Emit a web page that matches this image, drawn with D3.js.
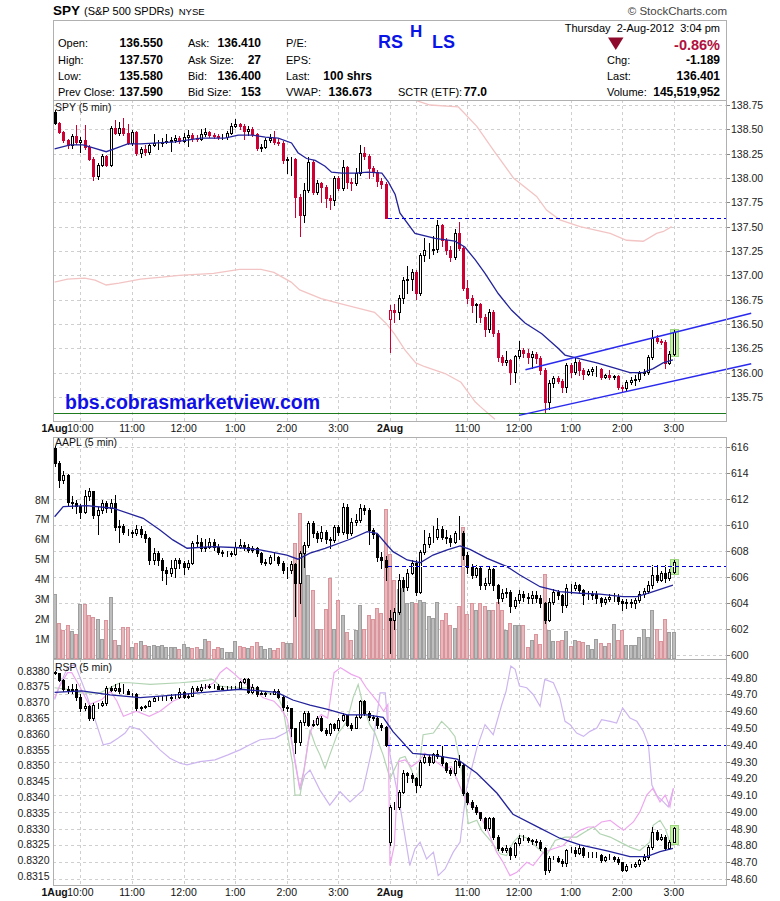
<!DOCTYPE html>
<html>
<head>
<meta charset="utf-8">
<script src="https://cdn.jsdelivr.net/npm/d3@7"></script>
<style>
body { margin: 0; background: #fff; }
svg text { font-family: Arial, "Liberation Sans", sans-serif; }
</style>
</head>
<body>
<div id="chart"></div>
<script>
// bar index: 0 = 1Aug 9:30, 78 = 2Aug 9:30, one bar = 5 minutes
const timeTicks = [0, 6, 18, 30, 42, 54, 66, 78, 96, 108, 120, 132, 144];
const timeText = ['1Aug', '10:00', '11:00', '12:00', '1:00', '2:00', '3:00', '2Aug', '11:00', '12:00', '1:00', '2:00', '3:00'];
const gridTicks = [6, 18, 30, 42, 54, 66, 78, 84, 96, 108, 120, 132, 144];

// ---- SPY 5 min ----
const spyDayOpen = [138.68, 136.55];
const spyPrior = 137.71;
const spyPrevClose = 137.59;
const spyLowLine = 135.58;
const spyClose = [
  138.57,138.47,138.39,138.34,138.43,138.37,138.39,138.32,138.20,138.02,
  138.13,138.23,138.13,138.51,138.46,138.51,138.46,138.36,138.47,138.26,
  138.30,138.27,138.34,138.36,138.36,138.37,138.38,138.39,138.41,138.38,
  138.42,138.44,138.41,138.40,138.45,138.47,138.44,138.43,138.42,138.42,
  138.46,138.53,138.55,138.53,138.48,138.50,138.45,138.31,138.32,138.39,
  138.41,138.37,138.36,138.18,138.19,138.20,137.80,137.62,137.88,138.16,
  137.86,137.95,137.91,137.79,137.77,138.00,137.90,138.11,137.96,137.95,
  138.05,138.26,138.23,138.10,138.06,137.97,137.94,137.59,
  136.64,136.62,136.77,136.95,136.96,137.03,136.82,137.21,137.26,137.26,
  137.27,137.52,137.36,137.26,137.19,137.43,137.28,136.87,136.77,136.69,
  136.70,136.57,136.45,136.62,136.41,136.16,136.11,136.13,136.01,136.17,
  136.23,136.20,136.16,136.19,136.15,136.03,135.70,135.89,135.94,135.91,
  135.85,136.08,136.01,136.11,136.03,135.99,136.02,136.04,136.04,135.95,
  135.97,135.95,135.96,135.85,135.84,135.90,135.92,135.93,136.00,136.01,
  136.16,136.36,136.32,136.31,136.10,136.19,136.42];
const spyHigh = [
  138.70,138.58,138.48,138.40,138.45,138.54,138.42,138.54,138.34,138.22,
  138.15,138.25,138.24,138.53,138.60,138.58,138.62,138.55,138.49,138.48,
  138.32,138.34,138.36,138.45,138.39,138.41,138.45,138.42,138.44,138.43,
  138.46,138.49,138.46,138.44,138.50,138.51,138.48,138.46,138.45,138.45,
  138.48,138.56,138.61,138.57,138.55,138.53,138.52,138.46,138.35,138.41,
  138.45,138.48,138.40,138.38,138.22,138.22,138.21,137.84,137.95,138.22,
  138.18,137.98,137.96,137.93,137.82,138.02,138.02,138.18,138.12,138.00,
  138.10,138.34,138.32,138.25,138.12,138.08,138.00,137.96,
  136.69,136.70,136.80,136.98,137.10,137.06,137.05,137.23,137.38,137.33,
  137.40,137.57,137.53,137.38,137.30,137.48,137.55,137.30,136.95,136.80,
  136.72,136.72,136.60,136.65,136.64,136.44,136.18,136.22,136.14,136.18,
  136.32,136.25,136.24,136.22,136.21,136.17,136.05,135.92,135.96,135.96,
  135.93,136.10,136.10,136.16,136.13,136.05,136.04,136.06,136.07,136.05,
  135.99,136.03,135.98,135.98,135.87,135.92,135.95,135.97,136.02,136.04,
  136.18,136.44,136.39,136.34,136.33,136.22,136.44];
const spyLow = [
  138.55,138.46,138.37,138.31,138.31,138.35,138.27,138.30,138.18,137.98,
  137.99,138.12,138.12,138.12,138.45,138.44,138.44,138.35,138.34,138.24,
  138.22,138.24,138.25,138.33,138.30,138.33,138.36,138.28,138.37,138.36,
  138.37,138.33,138.38,138.38,138.39,138.43,138.42,138.41,138.40,138.40,
  138.40,138.45,138.52,138.50,138.40,138.44,138.43,138.29,138.28,138.31,
  138.37,138.35,138.34,138.15,138.05,138.03,137.60,137.40,137.55,137.86,
  137.84,137.84,137.75,137.70,137.68,137.72,137.88,137.88,137.90,137.88,
  137.93,138.03,138.20,138.00,138.02,137.92,137.90,137.59,
  136.21,136.52,136.55,136.72,136.82,136.85,136.76,136.80,137.15,137.18,
  137.22,137.24,137.30,137.22,137.15,137.17,137.26,136.85,136.72,136.62,
  136.52,136.52,136.38,136.42,136.38,136.12,136.08,136.08,135.88,135.90,
  136.15,136.16,136.10,136.05,136.10,135.99,135.58,135.63,135.85,135.89,
  135.80,135.80,135.95,135.99,135.98,135.93,135.97,135.98,135.96,135.93,
  135.94,135.93,135.93,135.83,135.80,135.82,135.88,135.87,135.91,135.97,
  135.99,136.14,136.30,136.29,136.05,136.09,136.18];
const spyMA = [[0,138.30],[3.6,138.34],[6.6,138.34],[9,138.31],[12,138.27],[14.5,138.31],[17,138.35],[20,138.35],[28,138.37],[34,138.41],[39.6,138.41],[42.7,138.44],[46,138.44],[49,138.42],[52,138.41],[55.1,138.36],[56.6,138.26],[58.6,138.20],[60.6,138.18],[62.9,138.12],[64.4,138.06],[66.8,138.05],[69.9,138.05],[72.9,138.06],[76.1,138.05],[77.6,137.96],[79.2,137.83],[80.3,137.64],[83.8,137.43],[88.5,137.38],[93.1,137.35],[95.4,137.29],[97.8,137.16],[100.1,137.02],[103.2,136.81],[106.3,136.64],[109.4,136.51],[113.3,136.40],[117.1,136.25],[118.7,136.18],[122.2,136.14],[126.1,136.10],[129.9,136.05],[133.8,136.00],[136.8,136.00],[139.2,136.04],[141.5,136.10],[143.8,136.13]];
const spyBandLow = [[0,136.93],[3,136.96],[7,136.97],[9.4,136.95],[12,136.90],[15,136.92],[20,136.96],[25,136.98],[29,137.00],[37,137.02],[43,137.06],[48,137.06],[51,137.03],[55,136.93],[57,136.85],[62,136.76],[68,136.69],[74.4,136.62],[77,136.51],[79,136.40],[81.5,136.23],[84,136.10],[86.1,136.06],[90.8,135.99],[94.5,135.90],[97.8,135.70],[99,135.65],[102.4,135.52]];
const spyBandHigh = [[80,138.95],[83.8,138.80],[87.3,138.75],[93.9,138.73],[98.2,138.53],[102,138.29],[106.7,138.00],[112.1,137.81],[114.4,137.67],[117.5,137.57],[122.2,137.50],[129.2,137.43],[133,137.36],[136.9,137.35],[140,137.43],[141.6,137.45],[143.5,137.50]];
const channelUpper = [[109.5,136.03],[162,136.61]];
const channelLower = [[108,135.56],[162,136.09]];
const spyTicks = [135.75,136.00,136.25,136.50,136.75,137.00,137.25,137.50,137.75,138.00,138.25,138.50,138.75];

// ---- AAPL 5 min + volume ----
const aaplDayOpen = [615.9, 602.85];
const aaplPrevClose = 606.85;
const aaplClose = [
  614.73,613.45,613.83,611.78,611.66,611.45,611.02,612.20,612.60,610.76,
  611.15,611.66,611.30,611.71,609.87,609.92,609.48,609.48,609.36,609.67,
  609.31,608.98,607.31,607.83,607.31,606.54,606.29,606.67,607.31,607.06,
  606.80,607.06,608.59,608.72,608.21,608.31,608.72,608.33,607.95,607.83,
  607.83,607.77,608.33,608.46,608.33,608.08,608.21,607.83,607.18,607.10,
  607.56,607.52,607.10,606.54,606.54,607.00,605.52,607.83,608.46,610.17,
  609.36,608.98,609.48,608.90,608.85,609.87,609.48,611.35,609.36,610.25,
  610.38,611.28,611.15,609.61,609.31,607.56,607.31,606.80,
  602.72,603.35,605.78,605.26,606.34,607.10,604.88,607.95,608.54,609.10,
  609.10,609.67,609.10,608.98,608.72,609.36,609.36,607.70,606.80,606.16,
  606.67,605.39,605.52,606.60,605.39,604.37,604.76,604.88,603.78,604.24,
  604.68,604.50,604.37,604.63,604.37,603.99,602.71,604.11,604.88,604.63,
  603.86,605.14,605.14,605.39,605.01,604.63,604.59,604.70,604.37,604.11,
  604.30,604.50,604.50,604.19,604.04,604.11,604.01,604.24,604.70,604.96,
  605.39,606.16,605.78,606.34,605.91,606.41,607.18];
const aaplHigh = [
  616.05,614.9,614.1,613.9,612.2,611.9,611.6,612.7,612.85,612.5,
  611.4,611.9,611.8,612.0,612.3,610.4,610.1,609.7,609.6,610.0,
  609.9,609.5,609.1,608.2,608.0,607.5,606.8,607.3,607.5,607.5,
  607.2,607.3,608.8,609.2,609.0,608.9,609.0,608.9,608.5,608.1,
  608.0,608.0,608.7,608.9,608.7,608.5,608.4,608.3,607.9,607.4,
  607.7,607.9,607.6,607.2,606.8,607.2,607.1,608.0,608.7,610.3,
  610.3,609.5,609.9,609.6,609.1,610.0,610.0,611.7,611.6,610.5,
  610.8,611.6,611.5,611.3,609.8,609.4,607.9,607.6,
  603.5,603.6,606.2,606.0,606.6,607.3,607.3,608.1,609.6,609.4,
  609.9,610.5,609.9,609.6,609.2,609.5,610.7,609.5,607.9,607.0,
  606.9,606.8,605.9,606.8,606.7,605.5,605.1,605.2,605.0,604.5,
  605.0,604.9,604.8,604.9,604.9,604.6,604.1,604.4,605.1,605.0,
  604.7,605.5,605.5,605.6,605.5,605.1,604.9,604.9,604.9,604.5,
  604.5,604.7,604.8,604.7,604.3,604.3,604.3,604.4,604.9,605.2,
  605.7,606.9,606.9,606.5,606.9,606.6,607.3];
const aaplLow = [
  614.5,612.9,613.2,611.5,611.3,610.9,610.5,610.9,611.9,610.5,
  609.3,610.9,611.0,611.0,609.6,608.7,609.3,609.2,609.1,609.2,
  609.1,608.7,607.0,607.0,606.9,605.8,605.5,606.1,606.0,606.7,
  606.2,606.6,607.0,608.4,608.0,608.0,608.2,608.1,607.8,607.6,
  607.6,607.6,607.7,608.2,608.1,607.9,607.9,607.6,607.0,606.9,
  607.0,607.3,606.9,606.3,605.9,606.3,603.0,604.0,606.8,608.3,
  609.1,608.7,608.8,608.6,608.2,608.7,609.2,609.3,609.0,609.2,
  610.0,610.2,610.8,608.5,609.0,607.2,606.7,605.8,
  600.2,602.0,603.2,604.9,605.0,606.2,604.6,604.8,607.8,608.3,
  608.7,608.9,608.9,608.6,608.4,608.6,608.9,607.4,606.3,605.9,
  606.0,605.1,605.1,605.4,605.0,604.0,604.2,604.5,603.3,603.6,
  604.0,604.2,604.0,604.0,604.1,603.7,602.5,602.6,603.9,604.3,
  603.3,603.7,604.8,605.0,604.8,603.9,604.3,604.3,604.0,603.8,
  603.9,604.2,604.2,603.9,603.5,603.6,603.7,603.6,604.1,604.5,
  604.8,605.2,605.6,605.7,605.6,605.8,606.3];
const aaplMA = [[0,610.63],[2,611.40],[7.5,611.48],[13.6,611.28],[20.6,610.51],[24.5,609.61],[27.5,608.85],[30.8,608.21],[36.8,608.33],[43.1,608.25],[47.8,608.08],[54,607.69],[56.6,607.37],[59.4,607.83],[62.9,608.21],[68.7,608.90],[72.7,609.48],[75,609.36],[77.3,608.46],[78.7,607.95],[82,607.31],[85,607.10],[88,607.69],[91.3,608.08],[94.3,608.39],[96.6,608.13],[100.6,607.44],[105.2,606.80],[108.2,606.16],[112.9,605.26],[117.5,604.88],[122.2,604.76],[126.8,604.70],[132.2,604.50],[135.4,604.50],[138.5,604.80],[141.5,605.14],[143.8,605.39]];
// volume in millions of shares
const volume = [
  3.23,1.81,1.42,1.67,1.39,1.25,2.76,2.76,2.17,2.09,
  2.00,0.97,1.92,3.10,0.92,0.66,1.60,1.60,0.58,0.79,
  0.90,0.66,0.62,0.68,0.62,0.66,0.60,0.60,0.60,0.48,
  0.72,0.57,0.52,0.60,0.48,1.00,0.90,0.48,0.60,0.55,
  0.32,0.32,0.87,0.65,0.60,0.55,0.65,0.82,0.65,0.48,
  0.55,0.45,0.55,0.82,0.79,0.79,5.82,7.30,5.67,4.19,
  3.47,1.50,1.50,2.51,4.07,1.50,2.96,2.17,1.34,0.92,
  1.44,2.71,1.50,2.17,2.00,2.54,2.30,7.50,
  5.25,3.97,3.52,3.55,2.80,2.85,2.80,2.96,2.85,2.14,
  2.06,2.85,1.96,2.29,1.70,1.55,2.63,6.62,2.22,2.80,
  2.46,2.80,2.63,2.46,2.43,2.85,2.43,1.45,1.79,1.70,
  1.70,1.70,0.58,0.92,1.22,0.75,4.24,1.45,0.88,0.88,
  0.92,1.37,0.62,0.92,0.87,0.83,0.67,0.50,1.00,0.80,
  0.62,0.80,1.76,0.95,1.42,0.67,0.67,0.67,1.09,1.47,
  1.09,2.46,1.50,0.88,2.00,1.34,1.34];
const aaplTicks = [600, 602, 604, 606, 608, 610, 612, 614, 616];
const volTicks = [1, 2, 3, 4, 5, 6, 7, 8];

// ---- RSP 5 min ----
const rspDayOpen = [49.836, 48.822];
const rspPrevClose = 49.40;
const rspClose = [
  49.828,49.786,49.733,49.727,49.733,49.685,49.619,49.631,49.561,49.637,
  49.637,49.649,49.739,49.727,49.739,49.721,49.721,49.703,49.703,49.621,
  49.625,49.631,49.661,49.677,49.679,49.679,49.679,49.685,49.685,49.717,
  49.687,49.691,49.741,49.727,49.745,49.745,49.751,49.751,49.733,49.739,
  49.739,49.739,49.739,49.776,49.792,49.717,49.746,49.701,49.709,49.701,
  49.703,49.721,49.687,49.627,49.618,49.498,49.415,49.538,49.588,49.518,
  49.524,49.560,49.488,49.470,49.524,49.502,49.548,49.578,49.518,49.502,
  49.568,49.661,49.588,49.568,49.560,49.518,49.506,49.399,
  49.031,49.031,49.120,49.230,49.220,49.202,49.161,49.299,49.329,49.299,
  49.343,49.333,49.290,49.250,49.230,49.303,49.280,49.111,49.061,49.031,
  48.998,48.962,48.902,48.962,48.852,48.787,48.773,48.785,48.743,48.813,
  48.846,48.844,48.832,48.827,48.821,48.783,48.654,48.727,48.727,48.707,
  48.694,48.773,48.773,48.755,48.785,48.743,48.743,48.743,48.743,48.713,
  48.733,48.733,48.721,48.700,48.654,48.679,48.679,48.688,48.713,48.733,
  48.793,48.882,48.838,48.852,48.787,48.822,48.902];
const rspHigh = [
  49.84,49.83,49.79,49.75,49.76,49.76,49.70,49.65,49.64,49.65,
  49.65,49.66,49.75,49.75,49.76,49.77,49.76,49.73,49.71,49.71,
  49.63,49.64,49.67,49.69,49.69,49.69,49.69,49.70,49.70,49.74,
  49.72,49.70,49.75,49.75,49.76,49.76,49.76,49.76,49.76,49.75,
  49.75,49.75,49.75,49.78,49.80,49.80,49.76,49.75,49.72,49.72,
  49.71,49.73,49.73,49.69,49.64,49.62,49.50,49.55,49.60,49.60,
  49.55,49.57,49.57,49.50,49.53,49.53,49.56,49.59,49.58,49.53,
  49.58,49.67,49.67,49.60,49.58,49.57,49.53,49.51,
  49.04,49.06,49.13,49.25,49.24,49.23,49.21,49.31,49.34,49.34,
  49.35,49.37,49.40,49.30,49.26,49.31,49.34,49.29,49.12,49.07,
  49.04,49.00,48.97,48.97,48.97,48.86,48.79,48.80,48.79,48.82,
  48.86,48.86,48.85,48.84,48.84,48.83,48.79,48.74,48.74,48.74,
  48.72,48.78,48.79,48.79,48.80,48.79,48.76,48.76,48.76,48.75,
  48.74,48.75,48.74,48.73,48.70,48.69,48.69,48.70,48.72,48.75,
  48.80,48.91,48.89,48.87,48.86,48.83,48.91];
const rspLow = [
  49.82,49.78,49.72,49.71,49.71,49.67,49.60,49.61,49.55,49.55,
  49.62,49.63,49.64,49.72,49.72,49.71,49.71,49.70,49.69,49.61,
  49.61,49.62,49.63,49.66,49.67,49.67,49.67,49.67,49.68,49.68,
  49.68,49.68,49.69,49.72,49.72,49.74,49.74,49.74,49.73,49.73,
  49.73,49.73,49.73,49.73,49.77,49.71,49.71,49.69,49.70,49.69,
  49.70,49.70,49.68,49.61,49.60,49.45,49.35,49.40,49.52,49.51,
  49.51,49.52,49.48,49.46,49.46,49.49,49.49,49.54,49.51,49.49,
  49.50,49.56,49.58,49.55,49.55,49.50,49.49,49.39,
  48.80,49.02,49.02,49.11,49.18,49.18,49.12,49.15,49.29,49.28,
  49.29,49.32,49.28,49.24,49.22,49.22,49.27,49.10,49.05,49.02,
  48.99,48.95,48.89,48.89,48.84,48.77,48.76,48.76,48.72,48.73,
  48.80,48.83,48.82,48.81,48.80,48.77,48.63,48.64,48.72,48.70,
  48.68,48.68,48.76,48.74,48.75,48.73,48.73,48.73,48.73,48.70,
  48.71,48.72,48.71,48.69,48.65,48.65,48.67,48.67,48.68,48.71,
  48.72,48.78,48.83,48.83,48.77,48.78,48.82];
const rspMA = [[0,49.713],[6.3,49.721],[12.9,49.697],[19.9,49.681],[26.1,49.693],[36.8,49.717],[43.1,49.731],[47.8,49.721],[51.7,49.713],[55.4,49.667],[59.4,49.637],[63.3,49.613],[68,49.578],[72.7,49.578],[76.4,49.563],[78.7,49.478],[83.3,49.349],[88,49.339],[93.6,49.315],[98.2,49.230],[102.9,49.111],[106.6,48.986],[112.2,48.912],[117.5,48.843],[122.2,48.803],[128.5,48.767],[133.8,48.733],[137.7,48.733],[140.8,48.763],[143.8,48.783]];
const rspPink = [[0,49.68],[1,49.74],[3,49.83],[4,49.83],[6,49.74],[8,49.64],[11,49.67],[13,49.72],[14.5,49.66],[16,49.57],[19,49.60],[22,49.57],[24.5,49.60],[27.5,49.66],[31,49.70],[34,49.73],[37,49.77],[38.5,49.83],[40,49.86],[41.5,49.83],[44,49.77],[46,49.74],[48.5,49.68],[51,49.66],[52.5,49.62],[54,49.56],[55,49.44],[56,49.28],[57,49.14],[58,49.25],[59,49.42],[60,49.52],[62,49.58],[63.5,49.56],[65,49.83],[66.5,49.86],[69,49.82],[71,49.80],[72.5,49.74],[75,49.66],[76.5,49.60],[77.5,49.64],[78,48.68],[79,48.80],[80,49.30],[81.5,49.31],[83,49.27],[84.6,49.30],[86.1,49.35],[87.7,49.32],[89.2,49.29],[90.8,49.26],[92.3,49.27],[94.3,49.15],[95.8,49.06],[98.2,49.02],[100.5,48.90],[102.8,48.76],[104.3,48.70],[105.9,48.62],[107.5,48.64],[109.8,48.70],[111.3,48.68],[113.7,48.76],[116,48.78],[118.3,48.80],[120.6,48.86],[122.2,48.89],[124.1,48.91],[125.7,48.91],[127.2,48.94],[129.2,48.95],[130.7,48.92],[132.3,48.89],[134.6,48.94],[136.1,49.00],[137.7,49.10],[139.1,49.14],[140.8,49.06],[142,49.10],[143.1,49.03],[143.9,49.14]];
const rspPurple = [[0,49.67],[1.3,49.76],[3,49.86],[4.7,49.88],[7,49.73],[9.4,49.55],[11.3,49.40],[13,49.41],[14.8,49.44],[16.4,49.47],[17.5,49.51],[19.9,49.49],[22.2,49.43],[24.5,49.37],[26.8,49.32],[29.2,49.29],[30.8,49.28],[33.8,49.30],[37.3,49.31],[40.3,49.34],[43.1,49.37],[45.4,49.40],[47.8,49.43],[51.3,49.44],[53.6,49.47],[54.7,49.49],[55.9,49.31],[57.1,49.13],[58.2,49.22],[59.4,49.25],[61.7,49.13],[64,49.04],[66.4,49.12],[68.7,49.06],[71.7,49.13],[73.8,49.37],[75.7,49.71],[76.9,49.71],[78,49.34],[80.3,49.04],[82.6,48.68],[83.8,48.78],[85,48.82],[86.5,48.72],[88.1,48.76],[89.2,48.62],[90.8,48.66],[92.7,48.76],[94.3,48.82],[95.8,49.14],[98.2,49.38],[100.1,49.52],[102,49.46],[104,49.64],[105,49.72],[106.1,49.87],[107.1,49.85],[108.1,49.75],[109.8,49.74],[111.3,49.70],[112.9,49.63],[114,49.79],[116,49.77],[117.5,49.68],[118.7,49.54],[119.9,49.52],[121.4,49.47],[123,49.45],[124.5,49.48],[126.1,49.50],[127.2,49.55],[129.2,49.54],[130.7,49.53],[132.1,49.62],[133.8,49.56],[135.4,49.54],[136.9,49.48],[138.1,49.40],[138.9,49.16],[140,49.10],[141.6,49.06],[142.7,49.03],[143.9,49.14]];
const rspGreen = [[0,49.74],[3,49.73],[6,49.71],[10.6,49.71],[12.9,49.74],[15.2,49.77],[17.5,49.77],[22.2,49.76],[29.2,49.77],[33.8,49.78],[36.8,49.79],[38.5,49.75],[41.5,49.74],[46.1,49.74],[49.4,49.71],[51.7,49.70],[53.1,49.62],[54.3,49.44],[55.4,49.28],[55.9,49.10],[57.1,49.10],[58.2,49.28],[59.4,49.49],[60.6,49.40],[61.7,49.34],[62.9,49.26],[64,49.34],[65.7,49.46],[68,49.54],[69.4,49.68],[70.6,49.76],[71.7,49.64],[73.3,49.52],[74.5,49.47],[76.4,49.34],[78,49.20],[80.3,49.32],[81.5,49.33],[83,49.25],[84.2,49.15],[85.7,49.46],[88.1,49.47],[90,49.54],[91.6,49.50],[93.1,49.45],[94.7,49.24],[96.2,48.93],[98.2,48.95],[99.3,48.89],[101.3,48.83],[103.6,48.75],[105.1,48.74],[106.7,48.82],[108.2,48.86],[110.2,48.84],[112.1,48.79],[114.4,48.74],[116.4,48.83],[118.7,48.85],[121.4,48.85],[123.3,48.88],[125.3,48.91],[126.8,48.87],[129.2,48.85],[131.5,48.82],[133.8,48.79],[136.1,48.77],[138.4,48.82],[139.2,48.92],[140.8,48.95],[142,48.90],[143.1,48.82],[143.9,48.83]];
const rspTicks = [48.6,48.7,48.8,48.9,49.0,49.1,49.2,49.3,49.4,49.5,49.6,49.7,49.8];
const ratioTicks = [0.8315,0.8320,0.8325,0.8330,0.8335,0.8340,0.8345,0.8350,0.8355,0.8360,0.8365,0.8370,0.8375,0.8380];

// ---- header ----
const headerRows = [
  ['Open:', '136.550', 'Ask:', '136.410', 'P/E:', ''],
  ['High:', '137.570', 'Ask Size:', '27', 'EPS:', ''],
  ['Low:', '135.580', 'Bid:', '136.400', 'Last:', '100 shrs'],
  ['Prev Close:', '137.590', 'Bid Size:', '153', 'VWAP:', '136.673']
];
const quoteRows = [['Chg:', '-1.189'], ['Last:', '136.401'], ['Volume:', '145,519,952']];

const width = 780, height = 901;
const left = 53, right = 727;
const red = '#cc0033';

const svg = d3.select('#chart').append('svg')
  .attr('width', width)
  .attr('height', height);

const x = d3.scaleLinear().domain([0, 156]).range([54.6, 725.4]);
const spyY = d3.scaleLinear().domain([135.75, 138.75]).range([396.9, 105]);
const aaplY = d3.scaleLinear().domain([600, 616]).range([655.3, 446.7]);
const volY = d3.scaleLinear().domain([0, 8]).range([658.5, 499.5]);
const rspY = d3.scaleLinear().domain([48.6, 49.8]).range([879, 677.7]);
const ratioY = d3.scaleLinear().domain([0.8315, 0.8380]).range([876, 670.7]);

const panels = {
  spy: {top: 100, bottom: 420.5},
  aapl: {top: 436.5, bottom: 658.5},
  rsp: {top: 658.5, bottom: 884.5}
};

function makeBars(close, high, low, dayOpen, prior) {
  return close.map((c, i) => {
    const o = i === 0 ? dayOpen[0] : i === 78 ? dayOpen[1] : close[i - 1];
    const prev = i === 0 ? prior : close[i - 1];
    return {i, o, h: high[i], l: low[i], c, prev};
  });
}

const spyBars = makeBars(spyClose, spyHigh, spyLow, spyDayOpen, spyPrior);
const aaplBars = makeBars(aaplClose, aaplHigh, aaplLow, aaplDayOpen, aaplDayOpen[0]);
const rspBars = makeBars(rspClose, rspHigh, rspLow, rspDayOpen, rspDayOpen[0]);

// clip paths for each panel
const defs = svg.append('defs');
Object.entries(panels).forEach(([k, p]) => {
  defs.append('clipPath').attr('id', `clip-${k}`)
    .append('rect')
    .attr('x', left).attr('y', p.top)
    .attr('width', right - left).attr('height', p.bottom - p.top);
});

// grid
function drawGrid(p, yScale, ticks) {
  const g = svg.append('g').attr('shape-rendering', 'crispEdges');
  g.selectAll('.hg').data(ticks).join('line')
    .attr('x1', left).attr('x2', right)
    .attr('y1', d => Math.round(yScale(d)) + 0.5)
    .attr('y2', d => Math.round(yScale(d)) + 0.5)
    .attr('stroke', '#cfcfcf').attr('stroke-dasharray', '3,3');
  g.selectAll('.vg').data(gridTicks).join('line')
    .attr('x1', d => Math.round(x(d)) + 0.5).attr('x2', d => Math.round(x(d)) + 0.5)
    .attr('y1', p.top).attr('y2', p.bottom)
    .attr('stroke', '#cfcfcf').attr('stroke-dasharray', '3,3');
}
drawGrid(panels.spy, spyY, spyTicks);
drawGrid(panels.aapl, aaplY, aaplTicks);
drawGrid(panels.rsp, rspY, rspTicks);

// volume bars (coloured by SPY direction)
svg.append('g').attr('shape-rendering', 'crispEdges')
  .selectAll('rect').data(volume).join('rect')
  .attr('x', (d, i) => Math.round(x(i)) - 1.5)
  .attr('width', 3)
  .attr('y', d => Math.round(volY(d)) + 0.5)
  .attr('height', d => Math.max(0, volY(0) - Math.round(volY(d)) - 0.5))
  .attr('fill', (d, i) => spyBars[i].c < spyBars[i].prev ? '#e8b8bd' : '#bdbdbd')
  .attr('stroke', (d, i) => spyBars[i].c < spyBars[i].prev ? '#d8959c' : '#9e9e9e');

// thin lines
function drawLine(points, yScale, color, w, clip) {
  const line = d3.line().x(d => x(d[0])).y(d => yScale(d[1]));
  const p = svg.append('path')
    .attr('d', line(points))
    .attr('fill', 'none')
    .attr('stroke', color)
    .attr('stroke-width', w);
  if (clip) p.attr('clip-path', `url(#clip-${clip})`);
  return p;
}

drawLine(spyBandLow, spyY, '#f3c4c4', 1.3, 'spy');
drawLine(spyBandHigh, spyY, '#f3c4c4', 1.3, 'spy');
drawLine(rspPurple, rspY, '#cdb6f0', 1.2, 'rsp');
drawLine(rspGreen, rspY, '#b2d4b2', 1.2, 'rsp');
drawLine(rspPink, rspY, '#eea6ee', 1.2, 'rsp');

// last bar highlight
function highlight(bar, yScale) {
  const top = Math.round(yScale(Math.max(bar.o, bar.c)));
  const bot = Math.round(yScale(Math.min(bar.o, bar.c)));
  svg.append('rect')
    .attr('x', Math.round(x(bar.i)) - 3.5).attr('y', top - 2.5)
    .attr('width', 8).attr('height', bot - top + 5)
    .attr('fill', '#c2f0a6').attr('stroke', '#9ed67e')
    .attr('shape-rendering', 'crispEdges');
}
highlight(spyBars[144], spyY);
highlight(aaplBars[144], aaplY);
highlight(rspBars[144], rspY);

// candles
function drawCandles(bars, yScale, colorOf) {
  const g = svg.append('g').attr('shape-rendering', 'crispEdges');
  const cx = d => Math.round(x(d.i));
  g.append('g').selectAll('line').data(bars).join('line')
    .attr('x1', d => cx(d) + 0.5).attr('x2', d => cx(d) + 0.5)
    .attr('y1', d => Math.round(yScale(d.h)))
    .attr('y2', d => Math.round(yScale(d.l)) + 1)
    .attr('stroke', colorOf);
  g.append('g').selectAll('rect').data(bars).join('rect')
    .attr('x', d => cx(d) - 0.5)
    .attr('y', d => Math.round(yScale(Math.max(d.o, d.c))) + 0.5)
    .attr('width', 2)
    .attr('height', d => Math.max(0, Math.round(yScale(Math.min(d.o, d.c))) - Math.round(yScale(Math.max(d.o, d.c)))))
    .attr('fill', d => d.c < d.o ? colorOf(d) : '#fff')
    .attr('stroke', colorOf);
}
drawCandles(spyBars, spyY, d => d.c < d.prev ? red : '#000');
drawCandles(aaplBars, aaplY, () => '#000');
drawCandles(rspBars, rspY, () => '#000');

// moving averages
drawLine(spyMA, spyY, '#23239c', 1.3, 'spy');
drawLine(aaplMA, aaplY, '#23239c', 1.3, 'aapl');
drawLine(rspMA, rspY, '#23239c', 1.3, 'rsp');

// previous close dashed lines (white underlay hides any grid line below)
function dashed(value, yScale) {
  const yy = Math.round(yScale(value)) + 0.5;
  svg.append('line')
    .attr('x1', x(77.5)).attr('x2', right - 1)
    .attr('y1', yy).attr('y2', yy)
    .attr('stroke', '#fff').attr('stroke-width', 1)
    .attr('shape-rendering', 'crispEdges');
  svg.append('line')
    .attr('x1', x(77.5)).attr('x2', right)
    .attr('y1', yy).attr('y2', yy)
    .attr('stroke', '#0000dd').attr('stroke-width', 1)
    .attr('stroke-dasharray', '4,3')
    .attr('shape-rendering', 'crispEdges');
}
dashed(spyPrevClose, spyY);
dashed(aaplPrevClose, aaplY);
dashed(rspPrevClose, rspY);

// day-low line
svg.append('line')
  .attr('x1', left).attr('x2', right)
  .attr('y1', Math.round(spyY(spyLowLine)) + 0.5).attr('y2', Math.round(spyY(spyLowLine)) + 0.5)
  .attr('stroke', '#1d7a1d').attr('stroke-width', 1.2);

// channel lines (drawn past the frame, as in the annotation)
drawLine(channelUpper, spyY, '#2a2aee', 1.5);
drawLine(channelLower, spyY, '#2a2aee', 1.5);

// frames
Object.values(panels).forEach(p => {
  svg.append('rect')
    .attr('x', left + 0.5).attr('y', p.top + 0.5)
    .attr('width', right - left - 1).attr('height', p.bottom - p.top)
    .attr('fill', 'none').attr('stroke', '#b0b0b0')
    .attr('shape-rendering', 'crispEdges');
});

// right axes
function rightAxis(yScale, ticks, fmt) {
  const g = svg.append('g');
  g.selectAll('line').data(ticks).join('line')
    .attr('x1', right).attr('x2', right + 3)
    .attr('y1', d => Math.round(yScale(d)) + 0.5).attr('y2', d => Math.round(yScale(d)) + 0.5)
    .attr('stroke', '#888').attr('shape-rendering', 'crispEdges');
  g.selectAll('text').data(ticks).join('text')
    .attr('x', right + 4).attr('y', d => yScale(d) + 4)
    .attr('font-size', 10.5).attr('fill', '#222')
    .text(fmt);
}
rightAxis(spyY, spyTicks, d => d.toFixed(2));
rightAxis(aaplY, aaplTicks, d => d);
rightAxis(rspY, rspTicks, d => d.toFixed(2));

// left axes
function leftAxis(yScale, ticks, fmt) {
  svg.append('g').selectAll('text').data(ticks).join('text')
    .attr('x', 49.5).attr('y', d => yScale(d) + 4)
    .attr('text-anchor', 'end')
    .attr('font-size', 10.5).attr('fill', '#222')
    .text(fmt);
}
leftAxis(volY, volTicks, d => d + 'M');
leftAxis(ratioY, ratioTicks, d => d.toFixed(4));

// time axes
function timeAxis(yy) {
  svg.append('g').selectAll('text').data(timeTicks).join('text')
    .attr('x', d => x(d)).attr('y', yy)
    .attr('text-anchor', 'middle')
    .attr('font-size', 10.5)
    .attr('font-weight', (d, i) => timeText[i].includes('Aug') ? 'bold' : 'normal')
    .attr('fill', '#111')
    .text((d, i) => timeText[i]);
}
timeAxis(432);
timeAxis(895.5);

// panel titles
[['SPY (5 min)', 111], ['AAPL (5 min)', 446], ['RSP (5 min)', 671]].forEach(([t, yy]) => {
  svg.append('text')
    .attr('x', 55).attr('y', yy)
    .attr('font-family', '"DejaVu Sans", Verdana, sans-serif')
    .attr('font-size', 10.5)
    .attr('fill', '#111')
    .text(t);
});

// watermark
svg.append('text')
  .attr('x', 65).attr('y', 409)
  .attr('font-size', 19.5).attr('font-weight', 'bold')
  .attr('fill', '#1010e6')
  .text('bbs.cobrasmarketview.com');

// ---- header ----
const title = svg.append('text').attr('x', 53).attr('y', 15);
title.append('tspan').attr('font-size', 13.5).attr('font-weight', 'bold').text('SPY');
title.append('tspan').attr('font-size', 11).attr('dx', 4).text('(S&P 500 SPDRs)');
title.append('tspan').attr('font-size', 9.5).attr('dx', 5).text('NYSE');

svg.append('text')
  .attr('x', 727).attr('y', 15).attr('text-anchor', 'end')
  .attr('font-size', 11.5).attr('fill', '#444')
  .text('\u00a9 StockCharts.com');

svg.append('rect')
  .attr('x', left + 0.5).attr('y', 20.5)
  .attr('width', right - left - 1).attr('height', 79.5)
  .attr('fill', 'none').attr('stroke', '#b0b0b0')
  .attr('shape-rendering', 'crispEdges');

const rowY = [47, 63.5, 80, 96];
const labelX = [58, 188, 286];
const valueX = [163, 261, 372];
headerRows.forEach((row, r) => {
  for (let c = 0; c < 3; c++) {
    svg.append('text')
      .attr('x', labelX[c]).attr('y', rowY[r])
      .attr('font-size', 11).text(row[c * 2]);
    svg.append('text')
      .attr('x', valueX[c]).attr('y', rowY[r])
      .attr('text-anchor', 'end')
      .attr('font-size', 12).attr('font-weight', 'bold')
      .text(row[c * 2 + 1]);
  }
});
svg.append('text').attr('x', 398).attr('y', 96).attr('font-size', 11).text('SCTR (ETF):');
svg.append('text').attr('x', 487).attr('y', 96).attr('text-anchor', 'end')
  .attr('font-size', 12).attr('font-weight', 'bold').text('77.0');

// RS H LS
svg.append('text').attr('x', 378).attr('y', 48).attr('font-size', 18).attr('font-weight', 'bold').attr('fill', '#0a14e6').text('RS');
svg.append('text').attr('x', 410).attr('y', 36.5).attr('font-size', 17).attr('font-weight', 'bold').attr('fill', '#0a14e6').text('H');
svg.append('text').attr('x', 432).attr('y', 48).attr('font-size', 18).attr('font-weight', 'bold').attr('fill', '#0a14e6').text('LS');

svg.append('text').attr('x', 720).attr('y', 32).attr('text-anchor', 'end')
  .attr('font-size', 11).attr('xml:space', 'preserve')
  .text('Thursday  2-Aug-2012  3:04 pm');
svg.append('path')
  .attr('d', 'M608,37.5 L623.5,37.5 L615.75,50 Z')
  .attr('fill', '#8e0a2c');
svg.append('text').attr('x', 720).attr('y', 49.5).attr('text-anchor', 'end')
  .attr('font-size', 14.5).attr('font-weight', 'bold').attr('fill', '#b0103e')
  .text('-0.86%');
quoteRows.forEach((row, r) => {
  svg.append('text').attr('x', 607).attr('y', rowY[r + 1]).attr('font-size', 11).text(row[0]);
  svg.append('text').attr('x', 720).attr('y', rowY[r + 1]).attr('text-anchor', 'end')
    .attr('font-size', 12).attr('font-weight', 'bold').text(row[1]);
});
</script>
</body>
</html>
